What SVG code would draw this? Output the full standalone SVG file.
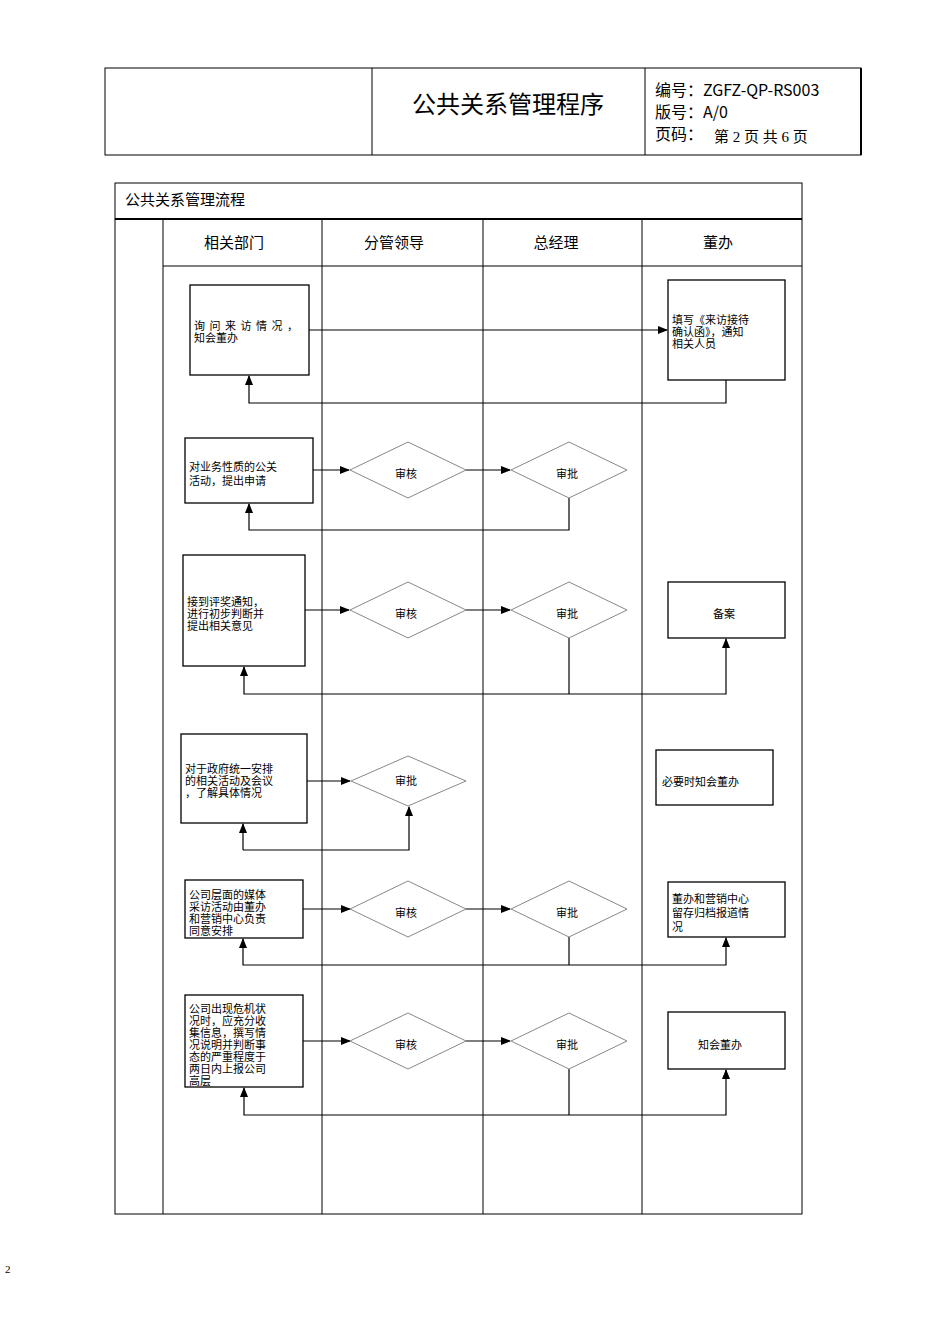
<svg xmlns="http://www.w3.org/2000/svg" width="950" height="1344" viewBox="0 0 950 1344">
<defs>
<marker id="ar" markerWidth="10" markerHeight="8" refX="9" refY="4" orient="auto" markerUnits="userSpaceOnUse"><path d="M0,0 L10,4 L0,8 Z" fill="#000"/></marker>
<style>
.t{font-family:"Liberation Serif","Noto Sans CJK SC",serif;font-size:11px;fill:#000}
.h{font-family:"Noto Sans CJK SC",sans-serif;fill:#000}
.s{font-family:"Liberation Serif","Noto Sans CJK SC",serif;font-size:15px;fill:#000}
.b{fill:#fff;stroke:#000;stroke-width:1.3}
.d{fill:#fff;stroke:#888;stroke-width:1}
.c{fill:none;stroke:#000;stroke-width:1.2}
.l{stroke:#000;stroke-width:1;fill:none}
</style>
</defs>
<rect width="950" height="1344" fill="#fff"/>
<g id="header">
<rect x="105" y="68" width="756" height="87" class="l"/>
<line x1="861" y1="68" x2="861" y2="155" stroke="#000" stroke-width="2"/>
<line x1="372" y1="68" x2="372" y2="155" class="l"/>
<line x1="645" y1="68" x2="645" y2="155" class="l"/>
<text x="508" y="113" text-anchor="middle" class="h" font-size="24">公共关系管理程序</text>
<text x="655" y="96" class="h" font-size="16">编号：ZGFZ-QP-RS003</text>
<text x="655" y="118" class="h" font-size="16">版号：A/0</text>
<text x="655" y="140" class="h" font-size="16">页码：</text>
<text x="714" y="142" class="s" font-size="14">第 2 页 共 6 页</text>
</g>
<g id="frame">
<rect x="115" y="183" width="687" height="1031" class="l"/>
<line x1="115" y1="219" x2="802" y2="219" stroke="#000" stroke-width="2"/>
<text x="125" y="205" class="s" font-size="18">公共关系管理流程</text>
<line x1="163" y1="219" x2="163" y2="1214" class="l"/>
<line x1="322" y1="219" x2="322" y2="1214" class="l"/>
<line x1="483" y1="219" x2="483" y2="1214" class="l"/>
<line x1="642" y1="219" x2="642" y2="1214" class="l"/>
<line x1="163" y1="266" x2="802" y2="266" class="l"/>
<text x="234" y="248" text-anchor="middle" class="s">相关部门</text>
<text x="394" y="248" text-anchor="middle" class="s">分管领导</text>
<text x="556" y="248" text-anchor="middle" class="s">总经理</text>
<text x="718" y="248" text-anchor="middle" class="s">董办</text>
</g>
<g id="connectors">
<line x1="309" y1="330" x2="667" y2="330" class="c" marker-end="url(#ar)"/>
<polyline points="726,380 726,403 249,403 249,376" class="c" marker-end="url(#ar)"/>
<line x1="313" y1="470" x2="349" y2="470" class="c" marker-end="url(#ar)"/>
<line x1="466" y1="470" x2="510" y2="470" class="c" marker-end="url(#ar)"/>
<polyline points="569,498 569,530 249,530 249,504" class="c" marker-end="url(#ar)"/>
<line x1="305" y1="610" x2="349" y2="610" class="c" marker-end="url(#ar)"/>
<line x1="466" y1="610" x2="510" y2="610" class="c" marker-end="url(#ar)"/>
<line x1="569" y1="638" x2="569" y2="694" class="c"/>
<polyline points="569,694 244,694 244,667" class="c" marker-end="url(#ar)"/>
<polyline points="569,694 726,694 726,639" class="c" marker-end="url(#ar)"/>
<line x1="307" y1="781" x2="350" y2="781" class="c" marker-end="url(#ar)"/>
<polyline points="243,850 243,824" class="c" marker-end="url(#ar)"/>
<polyline points="243,850 409,850 409,807" class="c" marker-end="url(#ar)"/>
<line x1="303" y1="909" x2="350" y2="909" class="c" marker-end="url(#ar)"/>
<line x1="466" y1="909" x2="510" y2="909" class="c" marker-end="url(#ar)"/>
<line x1="569" y1="937" x2="569" y2="965" class="c"/>
<polyline points="569,965 243,965 243,939" class="c" stroke-width="2" marker-end="url(#ar)"/>
<polyline points="569,965 726,965 726,938" class="c" marker-end="url(#ar)"/>
<line x1="303" y1="1041" x2="350" y2="1041" class="c" marker-end="url(#ar)"/>
<line x1="466" y1="1041" x2="510" y2="1041" class="c" marker-end="url(#ar)"/>
<line x1="569" y1="1069" x2="569" y2="1115" class="c"/>
<polyline points="569,1115 244,1115 244,1088" class="c" marker-end="url(#ar)"/>
<polyline points="569,1115 726,1115 726,1070" class="c" marker-end="url(#ar)"/>
</g>
<g id="n1"><rect x="190" y="285" width="119" height="90" class="b"/><text class="t"><tspan x="194" y="330" letter-spacing="4.5">询问来访情况，</tspan><tspan x="194" y="342">知会董办</tspan></text></g>
<g id="n2"><rect x="668" y="280" width="117" height="100" class="b"/><text class="t"><tspan x="672" y="324">填写《来访接待</tspan><tspan x="672" y="336">确认函》，通知</tspan><tspan x="672" y="348">相关人员</tspan></text></g>
<g id="n3"><rect x="185" y="438" width="128" height="65" class="b"/><text class="t"><tspan x="189" y="471">对业务性质的公关</tspan><tspan x="189" y="485">活动，提出申请</tspan></text></g>
<g id="d1"><polygon points="350,470 408,442 466,470 408,498" class="d"/><text x="406" y="478" text-anchor="middle" class="t">审核</text></g>
<g id="d2"><polygon points="511,470 569,442 627,470 569,498" class="d"/><text x="567" y="478" text-anchor="middle" class="t">审批</text></g>
<g id="n4"><rect x="183" y="555" width="122" height="111" class="b"/><text class="t"><tspan x="187" y="606">接到评奖通知，</tspan><tspan x="187" y="618">进行初步判断并</tspan><tspan x="187" y="630">提出相关意见</tspan></text></g>
<g id="d3"><polygon points="350,610 408,582 466,610 408,638" class="d"/><text x="406" y="618" text-anchor="middle" class="t">审核</text></g>
<g id="d4"><polygon points="511,610 569,582 627,610 569,638" class="d"/><text x="567" y="618" text-anchor="middle" class="t">审批</text></g>
<g id="n5"><rect x="668" y="582" width="117" height="56" class="b"/><text x="724" y="618" text-anchor="middle" class="t">备案</text></g>
<g id="n6"><rect x="181" y="734" width="126" height="89" class="b"/><text class="t"><tspan x="185" y="773">对于政府统一安排</tspan><tspan x="185" y="785">的相关活动及会议</tspan><tspan x="185" y="797">，了解具体情况</tspan></text></g>
<g id="d5"><polygon points="351,781 408,756 466,781 408,806" class="d"/><text x="406" y="785" text-anchor="middle" class="t">审批</text></g>
<g id="n7"><rect x="656" y="750" width="117" height="55" class="b"/><text x="662" y="786" class="t">必要时知会董办</text></g>
<g id="n8"><rect x="185" y="880" width="118" height="58" class="b"/><text class="t"><tspan x="189" y="899">公司层面的媒体</tspan><tspan x="189" y="911">采访活动由董办</tspan><tspan x="189" y="923">和营销中心负责</tspan><tspan x="189" y="935">同意安排</tspan></text></g>
<g id="d6"><polygon points="350,909 408,881 466,909 408,937" class="d"/><text x="406" y="917" text-anchor="middle" class="t">审核</text></g>
<g id="d7"><polygon points="511,909 569,881 627,909 569,937" class="d"/><text x="567" y="917" text-anchor="middle" class="t">审批</text></g>
<g id="n9"><rect x="668" y="882" width="117" height="55" class="b"/><text class="t"><tspan x="672" y="903">董办和营销中心</tspan><tspan x="672" y="917">留存归档报道情</tspan><tspan x="672" y="931">况</tspan></text></g>
<g id="n10"><rect x="185" y="995" width="118" height="92" class="b"/><text class="t"><tspan x="189" y="1013">公司出现危机状</tspan><tspan x="189" y="1025">况时，应充分收</tspan><tspan x="189" y="1037">集信息，撰写情</tspan><tspan x="189" y="1049">况说明并判断事</tspan><tspan x="189" y="1061">态的严重程度于</tspan><tspan x="189" y="1073">两日内上报公司</tspan><tspan x="189" y="1085">高层</tspan></text></g>
<g id="d8"><polygon points="350,1041 408,1013 466,1041 408,1069" class="d"/><text x="406" y="1049" text-anchor="middle" class="t">审核</text></g>
<g id="d9"><polygon points="511,1041 569,1013 627,1041 569,1069" class="d"/><text x="567" y="1049" text-anchor="middle" class="t">审批</text></g>
<g id="n11"><rect x="668" y="1012" width="117" height="57" class="b"/><text x="720" y="1049" text-anchor="middle" class="t">知会董办</text></g>
<text x="5" y="1273" class="t" font-size="13">2</text>
</svg>
